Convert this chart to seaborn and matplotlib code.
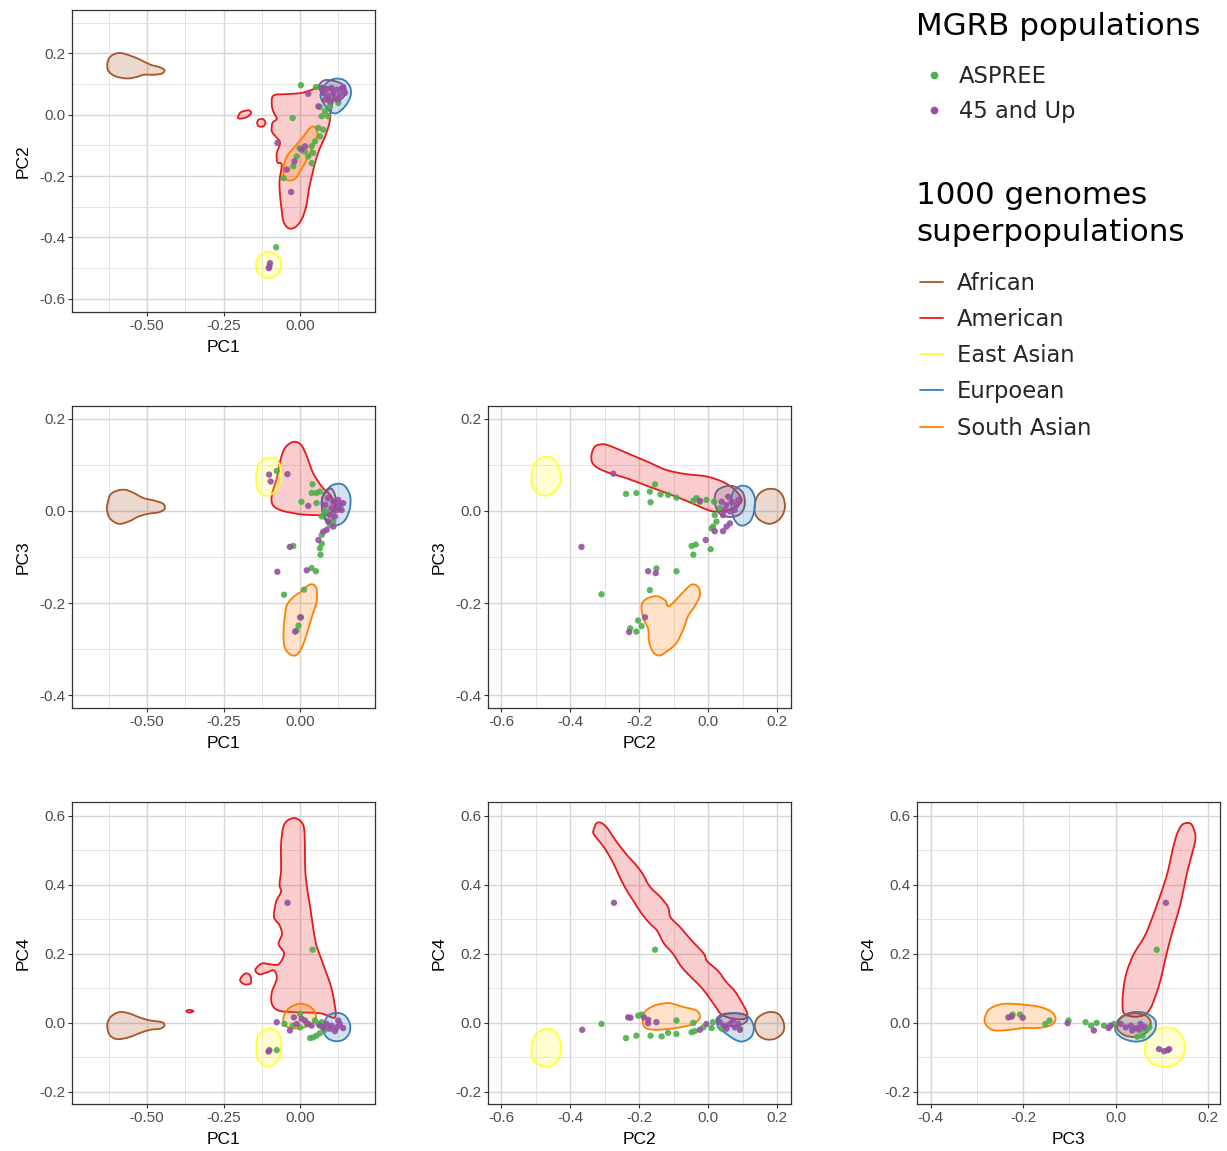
import numpy as np
import pandas as pd
import matplotlib
matplotlib.use("Agg")
import matplotlib.pyplot as plt
import seaborn as sns
from matplotlib.path import Path
from matplotlib.patches import PathPatch
from matplotlib.lines import Line2D
from matplotlib.colors import to_rgba
from matplotlib.ticker import MultipleLocator, FormatStrFormatter

# ---- data: contour outlines of 1000 genomes superpopulations, per panel (x, y) ----
# PC1 vs PC2
african_12 = [(-0.609, 0.196), (-0.587, 0.201), (-0.554, 0.192), (-0.522, 0.179), (-0.489, 0.163), (-0.457, 0.154),
              (-0.443, 0.145), (-0.451, 0.134), (-0.478, 0.130), (-0.511, 0.130), (-0.533, 0.123), (-0.565, 0.118),
              (-0.603, 0.125), (-0.625, 0.141), (-0.630, 0.163), (-0.623, 0.185)]
american_12 = [(-0.087, 0.062), (-0.043, 0.067), (0.0, 0.070), (0.033, 0.079), (0.065, 0.090), (0.098, 0.087),
               (0.109, 0.060), (0.101, 0.016), (0.096, -0.027), (0.082, -0.071), (0.065, -0.109), (0.052, -0.147),
               (0.041, -0.190), (0.030, -0.239), (0.020, -0.299), (0.005, -0.342), (-0.016, -0.367), (-0.038, -0.370),
               (-0.054, -0.348), (-0.060, -0.310), (-0.065, -0.266), (-0.067, -0.217), (-0.060, -0.163),
               (-0.074, -0.155), (-0.076, -0.125), (-0.065, -0.092), (-0.078, -0.073), (-0.092, -0.054),
               (-0.090, -0.027), (-0.076, -0.014), (-0.085, 0.005), (-0.092, 0.029)]
american_12_isle_a = [(-0.203, -0.008), (-0.193, 0.008), (-0.168, 0.014), (-0.160, 0.005), (-0.174, -0.008), (-0.196, -0.013)]
american_12_isle_b = [(-0.140, -0.027), (-0.135, -0.016), (-0.120, -0.015), (-0.113, -0.027), (-0.120, -0.038), (-0.135, -0.038)]
east_asian_12 = [(-0.144, -0.489), (-0.136, -0.464), (-0.114, -0.448), (-0.089, -0.450), (-0.068, -0.467),
                 (-0.062, -0.492), (-0.070, -0.516), (-0.092, -0.531), (-0.117, -0.530), (-0.138, -0.514)]
european_12 = [(0.082, 0.098), (0.109, 0.116), (0.141, 0.114), (0.163, 0.092), (0.165, 0.060), (0.147, 0.027),
               (0.120, 0.005), (0.098, 0.011), (0.076, 0.038), (0.067, 0.065)]
south_asian_12 = [(-0.054, -0.174), (-0.043, -0.136), (-0.016, -0.103), (0.011, -0.071), (0.033, -0.043),
                  (0.049, -0.041), (0.057, -0.065), (0.043, -0.103), (0.022, -0.147), (0.0, -0.185),
                  (-0.016, -0.209), (-0.038, -0.214), (-0.052, -0.201)]
core_12 = [(0.062, 0.095), (0.080, 0.112), (0.110, 0.110), (0.137, 0.100), (0.150, 0.080), (0.140, 0.055),
           (0.115, 0.045), (0.088, 0.055), (0.068, 0.075)]

# PC1 vs PC3
african_13 = [(-0.630, 0.013), (-0.620, 0.035), (-0.598, 0.044), (-0.571, 0.046), (-0.543, 0.039), (-0.511, 0.028),
              (-0.473, 0.022), (-0.446, 0.015), (-0.443, 0.004), (-0.462, -0.003), (-0.495, -0.006), (-0.527, -0.012),
              (-0.560, -0.023), (-0.592, -0.028), (-0.620, -0.017), (-0.630, -0.001)]
american_13 = [(-0.022, 0.150), (-0.049, 0.137), (-0.065, 0.108), (-0.076, 0.071), (-0.092, 0.035), (-0.089, 0.013),
               (-0.060, 0.001), (0.0, -0.007), (0.054, -0.009), (0.098, -0.007), (0.114, 0.013), (0.098, 0.035),
               (0.071, 0.053), (0.043, 0.082), (0.022, 0.119), (0.003, 0.144)]
east_asian_13 = [(-0.143, 0.075), (-0.136, 0.100), (-0.109, 0.115), (-0.076, 0.111), (-0.062, 0.087), (-0.065, 0.060),
                 (-0.087, 0.039), (-0.114, 0.033), (-0.138, 0.046)]
european_13 = [(0.082, 0.042), (0.109, 0.057), (0.141, 0.057), (0.163, 0.035), (0.163, 0.006), (0.147, -0.020),
               (0.120, -0.031), (0.092, -0.025), (0.074, 0.0), (0.071, 0.024)]
south_asian_13 = [(-0.043, -0.205), (-0.022, -0.187), (0.0, -0.177), (0.016, -0.167), (0.038, -0.159), (0.054, -0.169),
                  (0.054, -0.198), (0.040, -0.227), (0.027, -0.256), (0.011, -0.289), (-0.008, -0.311),
                  (-0.029, -0.313), (-0.049, -0.298), (-0.054, -0.271), (-0.051, -0.238)]
core_13 = [(0.098, 0.049), (0.114, 0.035), (0.117, 0.006), (0.103, -0.020), (0.087, -0.023), (0.074, -0.005), (0.073, 0.028)]

# PC2 vs PC3
african_23 = [(0.135, 0.013), (0.145, 0.035), (0.169, 0.047), (0.198, 0.046), (0.217, 0.031), (0.222, 0.006),
              (0.208, -0.017), (0.179, -0.028), (0.150, -0.020), (0.136, -0.006)]
american_23 = [(-0.338, 0.122), (-0.328, 0.140), (-0.304, 0.145), (-0.280, 0.140), (-0.236, 0.126), (-0.179, 0.108),
               (-0.121, 0.089), (-0.063, 0.080), (-0.005, 0.075), (0.043, 0.063), (0.077, 0.046), (0.097, 0.024),
               (0.080, 0.009), (0.048, 0.0), (0.014, -0.001), (-0.014, 0.006), (-0.063, 0.022), (-0.121, 0.039),
               (-0.179, 0.055), (-0.236, 0.071), (-0.285, 0.082), (-0.319, 0.093), (-0.336, 0.105)]
east_asian_23 = [(-0.512, 0.075), (-0.502, 0.104), (-0.473, 0.118), (-0.444, 0.111), (-0.429, 0.084), (-0.431, 0.057),
                 (-0.454, 0.037), (-0.483, 0.034), (-0.507, 0.049)]
european_23 = [(0.077, 0.046), (0.097, 0.055), (0.121, 0.049), (0.135, 0.028), (0.133, -0.001), (0.121, -0.023),
               (0.097, -0.032), (0.077, -0.020), (0.068, 0.006), (0.068, 0.031)]
south_asian_23 = [(-0.193, -0.205), (-0.179, -0.191), (-0.150, -0.185), (-0.125, -0.194), (-0.116, -0.207),
                  (-0.101, -0.199), (-0.072, -0.176), (-0.048, -0.160), (-0.029, -0.165), (-0.024, -0.183),
                  (-0.039, -0.207), (-0.058, -0.228), (-0.072, -0.257), (-0.092, -0.287), (-0.116, -0.303),
                  (-0.140, -0.314), (-0.159, -0.307), (-0.171, -0.285), (-0.174, -0.256), (-0.188, -0.233)]
core_23 = [(0.024, 0.042), (0.048, 0.053), (0.077, 0.053), (0.101, 0.039), (0.106, 0.013), (0.092, -0.007),
           (0.063, -0.013), (0.034, -0.006), (0.019, 0.017)]

# PC1 vs PC4
african_14 = [(-0.630, -0.008), (-0.620, 0.016), (-0.592, 0.031), (-0.560, 0.028), (-0.522, 0.015), (-0.489, 0.007),
              (-0.451, 0.002), (-0.443, -0.008), (-0.457, -0.017), (-0.489, -0.020), (-0.522, -0.029),
              (-0.560, -0.042), (-0.598, -0.047), (-0.622, -0.035)]
american_14 = [(-0.024, 0.593), (-0.052, 0.574), (-0.062, 0.516), (-0.062, 0.443), (-0.067, 0.400), (-0.062, 0.380),
               (-0.078, 0.351), (-0.085, 0.307), (-0.067, 0.283), (-0.059, 0.257), (-0.070, 0.228), (-0.052, 0.201),
               (-0.070, 0.170), (-0.100, 0.170), (-0.125, 0.172), (-0.146, 0.154), (-0.133, 0.141), (-0.109, 0.146),
               (-0.085, 0.152), (-0.076, 0.128), (-0.092, 0.089), (-0.092, 0.055), (-0.071, 0.036), (-0.022, 0.031),
               (0.065, 0.028), (0.114, 0.016), (0.111, 0.065), (0.100, 0.109), (0.085, 0.147), (0.067, 0.191),
               (0.052, 0.230), (0.041, 0.288), (0.033, 0.337), (0.024, 0.385), (0.017, 0.443), (0.016, 0.511),
               (0.013, 0.565), (0.0, 0.586)]
american_14_isle_a = [(-0.196, 0.125), (-0.179, 0.143), (-0.163, 0.137), (-0.161, 0.115), (-0.182, 0.112)]
american_14_isle_b = [(-0.372, 0.034), (-0.361, 0.038), (-0.348, 0.034), (-0.361, 0.030)]
east_asian_14 = [(-0.143, -0.071), (-0.136, -0.037), (-0.109, -0.017), (-0.078, -0.022), (-0.062, -0.051),
                 (-0.065, -0.095), (-0.087, -0.121), (-0.114, -0.125), (-0.138, -0.106)]
european_14 = [(0.078, -0.003), (0.092, 0.021), (0.120, 0.029), (0.147, 0.021), (0.163, -0.003), (0.161, -0.030),
               (0.141, -0.049), (0.114, -0.053), (0.090, -0.044), (0.076, -0.024)]
south_asian_14 = [(-0.054, 0.016), (-0.038, 0.041), (-0.005, 0.055), (0.027, 0.050), (0.049, 0.031), (0.050, 0.007),
                  (0.027, -0.009), (-0.005, -0.016), (-0.038, -0.013), (-0.052, -0.001)]

# PC2 vs PC4
african_24 = [(0.135, -0.008), (0.145, 0.016), (0.174, 0.031), (0.203, 0.026), (0.219, 0.0), (0.217, -0.027),
              (0.196, -0.045), (0.169, -0.048), (0.145, -0.035)]
american_24 = [(-0.331, 0.562), (-0.323, 0.579), (-0.309, 0.579), (-0.292, 0.564), (-0.270, 0.531), (-0.236, 0.487),
               (-0.212, 0.461), (-0.190, 0.432), (-0.169, 0.395), (-0.138, 0.364), (-0.116, 0.335), (-0.109, 0.306),
               (-0.080, 0.276), (-0.051, 0.242), (-0.013, 0.201), (-0.003, 0.179), (0.029, 0.150), (0.053, 0.118),
               (0.077, 0.092), (0.097, 0.060), (0.113, 0.028), (0.106, 0.012), (0.072, 0.012), (0.039, 0.024),
               (0.022, 0.046), (0.003, 0.073), (-0.019, 0.102), (-0.048, 0.131), (-0.077, 0.162), (-0.101, 0.199),
               (-0.128, 0.230), (-0.148, 0.267), (-0.169, 0.288), (-0.193, 0.317), (-0.217, 0.354), (-0.238, 0.387),
               (-0.258, 0.426), (-0.277, 0.467), (-0.302, 0.509), (-0.323, 0.535), (-0.333, 0.550)]
east_asian_24 = [(-0.512, -0.076), (-0.502, -0.037), (-0.473, -0.018), (-0.444, -0.024), (-0.428, -0.059),
                 (-0.431, -0.100), (-0.454, -0.124), (-0.483, -0.125), (-0.507, -0.106)]
european_24 = [(0.027, 0.007), (0.048, 0.024), (0.082, 0.028), (0.116, 0.018), (0.132, -0.011), (0.125, -0.040),
               (0.099, -0.054), (0.075, -0.047), (0.051, -0.030), (0.030, -0.015)]
south_asian_24 = [(-0.190, 0.007), (-0.182, 0.034), (-0.150, 0.052), (-0.111, 0.057), (-0.072, 0.046), (-0.034, 0.036),
                  (-0.024, 0.016), (-0.043, -0.003), (-0.082, -0.013), (-0.121, -0.018), (-0.159, -0.020),
                  (-0.183, -0.013)]
core_24 = [(0.024, 0.007), (0.039, 0.024), (0.072, 0.028), (0.106, 0.024), (0.113, 0.007), (0.092, -0.006), (0.053, -0.009)]

# PC3 vs PC4
african_34 = [(0.004, -0.003), (0.015, 0.018), (0.040, 0.028), (0.065, 0.021), (0.076, 0.002), (0.070, -0.024),
              (0.047, -0.040), (0.022, -0.037), (0.006, -0.022)]
american_34 = [(0.153, 0.579), (0.165, 0.574), (0.173, 0.540), (0.167, 0.497), (0.156, 0.443), (0.147, 0.385),
               (0.138, 0.332), (0.126, 0.278), (0.116, 0.230), (0.107, 0.181), (0.098, 0.128), (0.087, 0.080),
               (0.075, 0.041), (0.062, 0.023), (0.040, 0.018), (0.018, 0.028), (0.015, 0.065), (0.018, 0.109),
               (0.025, 0.152), (0.040, 0.201), (0.062, 0.249), (0.076, 0.293), (0.089, 0.341), (0.102, 0.390),
               (0.113, 0.438), (0.121, 0.487), (0.131, 0.540), (0.142, 0.571)]
east_asian_34 = [(0.063, -0.071), (0.073, -0.037), (0.098, -0.016), (0.127, -0.017), (0.146, -0.044), (0.149, -0.081),
                 (0.138, -0.112), (0.113, -0.127), (0.084, -0.121), (0.067, -0.100)]
european_34 = [(0.0, -0.008), (0.011, 0.016), (0.036, 0.031), (0.065, 0.028), (0.086, 0.007), (0.084, -0.024),
               (0.065, -0.048), (0.040, -0.054), (0.015, -0.044), (0.001, -0.027)]
south_asian_34 = [(-0.283, 0.016), (-0.272, 0.041), (-0.243, 0.055), (-0.200, 0.053), (-0.163, 0.046),
                  (-0.138, 0.031), (-0.130, 0.010), (-0.142, -0.008), (-0.171, -0.015), (-0.200, -0.015),
                  (-0.236, -0.021), (-0.265, -0.021), (-0.281, -0.005)]

# ---- data: MGRB samples, per panel (x, y) ----
aspree_12 = [(0.003, 0.096), (-0.024, -0.011), (0.052, 0.090), (0.065, 0.025), (0.082, 0.011), (0.071, -0.005),
             (0.092, -0.005), (0.076, -0.049), (0.065, -0.071), (0.049, -0.087), (0.038, -0.103), (0.043, -0.125),
             (0.027, -0.136), (0.016, -0.120), (0.038, -0.158), (-0.011, -0.136), (-0.002, -0.109), (-0.054, -0.207),
             (-0.022, -0.168), (-0.078, -0.432), (0.109, 0.049), (0.125, 0.038), (0.098, 0.027), (0.060, -0.043)]
up45_12 = [(0.027, 0.068), (0.060, 0.027), (-0.074, -0.092), (-0.029, -0.252), (-0.043, -0.179), (-0.018, -0.152),
           (0.005, -0.114), (0.016, -0.103), (-0.100, -0.495), (-0.098, -0.484), (-0.102, -0.500), (0.071, 0.087),
           (0.087, 0.082), (0.103, 0.087), (0.120, 0.082), (0.136, 0.084), (0.109, 0.071), (0.130, 0.065),
           (0.092, 0.060), (0.114, 0.054), (0.076, 0.071), (0.147, 0.071), (0.098, 0.043), (0.125, 0.049),
           (0.082, 0.049), (0.141, 0.090)]
aspree_13 = [(-0.076, 0.087), (0.041, 0.058), (0.038, 0.039), (0.054, 0.039), (0.065, 0.042), (0.005, 0.020),
             (0.054, 0.017), (0.071, -0.012), (0.082, -0.001), (0.092, -0.005), (0.098, -0.031), (0.071, -0.052),
             (0.071, -0.071), (0.065, -0.081), (0.067, -0.095), (-0.022, -0.076), (0.038, -0.124), (0.052, -0.131),
             (-0.052, -0.182), (0.013, -0.171), (0.0, -0.231), (-0.005, -0.249), (-0.011, -0.260), (0.109, -0.023),
             (0.130, 0.006)]
up45_13 = [(-0.101, 0.079), (-0.096, 0.064), (-0.041, 0.080), (0.027, 0.011), (0.060, -0.063), (-0.033, -0.078),
           (-0.074, -0.132), (0.022, -0.129), (0.003, -0.231), (-0.016, -0.262), (0.076, -0.045), (0.087, -0.041),
           (0.092, 0.028), (0.109, 0.020), (0.125, 0.024), (0.141, 0.017), (0.103, 0.006), (0.120, 0.002),
           (0.136, 0.002), (0.098, -0.009), (0.114, -0.012), (0.092, -0.023), (0.109, -0.034), (0.082, 0.013),
           (0.130, 0.013)]
aspree_23 = [(-0.238, 0.037), (-0.208, 0.039), (-0.169, 0.042), (-0.154, 0.058), (-0.167, 0.019), (-0.138, 0.036),
             (-0.116, 0.035), (-0.092, 0.029), (-0.043, 0.022), (-0.034, 0.028), (-0.005, 0.024), (0.017, 0.020),
             (0.019, -0.009), (0.024, -0.023), (0.014, -0.034), (0.010, -0.038), (-0.048, -0.076), (-0.036, -0.073),
             (-0.043, -0.095), (0.007, -0.083), (-0.150, -0.125), (-0.092, -0.131), (-0.169, -0.172),
             (-0.309, -0.181), (-0.203, -0.238), (-0.193, -0.250), (-0.208, -0.262), (-0.226, -0.255),
             (-0.024, 0.020), (0.034, 0.006)]
up45_23 = [(-0.275, 0.081), (-0.367, -0.078), (-0.007, -0.063), (0.019, -0.044), (0.043, -0.044), (0.053, -0.034),
           (0.063, -0.027), (-0.174, -0.131), (-0.152, -0.135), (-0.183, -0.231), (-0.229, -0.263), (-0.024, 0.022),
           (0.039, 0.020), (0.053, 0.013), (0.068, 0.020), (0.082, 0.013), (0.048, 0.002), (0.063, -0.001),
           (0.077, 0.002), (0.087, 0.024), (0.058, 0.031), (0.043, -0.009)]
aspree_14 = [(0.041, 0.212), (-0.076, -0.079), (-0.051, -0.003), (-0.024, -0.008), (0.0, 0.026), (0.0, -0.013),
             (0.049, 0.007), (0.060, -0.003), (0.071, 0.002), (0.043, -0.042), (0.054, -0.037), (0.065, -0.030),
             (0.033, -0.044), (0.082, -0.020), (0.022, -0.003)]
up45_14 = [(-0.041, 0.348), (-0.100, -0.079), (-0.103, -0.083), (-0.076, 0.002), (-0.033, -0.022), (-0.020, 0.016),
           (0.005, 0.012), (0.016, 0.007), (0.027, -0.003), (0.038, -0.008), (-0.011, -0.003), (0.087, -0.003),
           (0.103, -0.008), (0.120, -0.013), (0.130, -0.003), (0.141, -0.015), (0.098, -0.017), (0.114, -0.024),
           (0.125, 0.007), (0.065, -0.008), (0.076, -0.015)]
aspree_24 = [(-0.154, 0.212), (-0.309, -0.003), (-0.238, -0.044), (-0.208, -0.037), (-0.203, 0.021), (-0.193, 0.024),
             (-0.167, -0.037), (-0.135, -0.039), (-0.116, -0.029), (-0.092, -0.032), (-0.092, 0.007),
             (-0.048, -0.027), (-0.039, -0.024), (-0.043, 0.0), (-0.014, -0.013), (0.010, -0.015), (0.014, 0.002),
             (0.092, -0.017), (0.039, -0.015)]
up45_24 = [(-0.273, 0.348), (-0.365, -0.020), (-0.232, 0.016), (-0.225, 0.015), (-0.186, 0.016), (-0.174, -0.001),
           (-0.150, 0.002), (-0.174, 0.009), (-0.024, -0.020), (-0.005, -0.003), (0.034, 0.002), (0.048, -0.008),
           (0.063, -0.003), (0.077, -0.013), (0.087, -0.003), (0.053, -0.017), (0.092, -0.020), (0.072, 0.007)]
aspree_34 = [(0.089, 0.212), (-0.223, 0.024), (-0.207, 0.024), (-0.152, -0.003), (-0.143, 0.007), (-0.102, 0.007),
             (-0.065, 0.002), (-0.053, -0.008), (-0.041, 0.0), (-0.025, -0.008), (-0.004, -0.003), (0.065, -0.022),
             (0.073, -0.013), (0.047, -0.040), (0.058, -0.037)]
up45_34 = [(0.109, 0.348), (-0.232, 0.016), (-0.225, 0.018), (-0.201, 0.015), (-0.104, -0.001), (-0.047, -0.022),
           (-0.015, -0.015), (-0.011, -0.008), (0.094, -0.076), (0.105, -0.082), (0.113, -0.079), (0.116, -0.076),
           (0.011, -0.003), (0.022, -0.013), (0.033, -0.008), (0.044, -0.015), (0.054, -0.003), (0.036, -0.022),
           (0.051, -0.020), (0.062, -0.011)]

superpops = ["African", "American", "East Asian", "Eurpoean", "South Asian"]
cohorts = ["ASPREE", "45 and Up"]

# ---- style ----
pop_colors = {"African": "#A65628", "American": "#E41A1C", "East Asian": "#FFFF33",
              "Eurpoean": "#377EB8", "South Asian": "#FF7F00", "core": "#6E5C82"}
cohort_colors = {"ASPREE": "#4DAF4A", "45 and Up": "#984EA3"}

sns.set_theme(style="white")
plt.rcParams["font.family"] = ["Liberation Sans", "DejaVu Sans"]
plt.rcParams["axes.unicode_minus"] = False

W, H = 1227, 1151
fig = plt.figure(figsize=(W / 100, H / 100), dpi=100)

# panel: x var, y var, left px, top px, xlim, ylim, shapes, samples
panels = [
    ("PC1", "PC2", 72, 10, (-0.745, 0.245), (-0.643, 0.341),
     [("African", african_12), ("American", american_12), ("American", american_12_isle_a),
      ("American", american_12_isle_b), ("East Asian", east_asian_12), ("Eurpoean", european_12),
      ("South Asian", south_asian_12), ("core", core_12)], aspree_12, up45_12),
    ("PC1", "PC3", 72, 406, (-0.745, 0.245), (-0.428, 0.228),
     [("African", african_13), ("American", american_13), ("East Asian", east_asian_13),
      ("Eurpoean", european_13), ("South Asian", south_asian_13), ("core", core_13)], aspree_13, up45_13),
    ("PC2", "PC3", 488, 406, (-0.638, 0.24), (-0.428, 0.228),
     [("African", african_23), ("American", american_23), ("East Asian", east_asian_23),
      ("Eurpoean", european_23), ("South Asian", south_asian_23), ("core", core_23)], aspree_23, up45_23),
    ("PC1", "PC4", 72, 802, (-0.745, 0.245), (-0.235, 0.64),
     [("African", african_14), ("American", american_14), ("American", american_14_isle_a),
      ("American", american_14_isle_b), ("East Asian", east_asian_14), ("Eurpoean", european_14),
      ("South Asian", south_asian_14)], aspree_14, up45_14),
    ("PC2", "PC4", 488, 802, (-0.638, 0.24), (-0.235, 0.64),
     [("African", african_24), ("American", american_24), ("East Asian", east_asian_24),
      ("Eurpoean", european_24), ("South Asian", south_asian_24), ("core", core_24)], aspree_24, up45_24),
    ("PC3", "PC4", 917, 802, (-0.43, 0.226), (-0.235, 0.64),
     [("American", american_34), ("East Asian", east_asian_34), ("Eurpoean", european_34),
      ("South Asian", south_asian_34), ("African", african_34)], aspree_34, up45_34),
]

steps = {"PC1": (0.25, 0.125, "%.2f"), "PC2": (0.2, 0.1, "%.1f"),
         "PC3": (0.2, 0.1, "%.1f"), "PC4": (0.2, 0.1, "%.1f")}


def smooth_closed(pts):
    # closed Catmull-Rom curve through the outline vertices, as cubic Bezier segments
    p = np.asarray(pts, dtype=float)
    n = len(p)
    verts = [p[0]]
    codes = [Path.MOVETO]
    for i in range(n):
        p0, p1, p2, p3 = p[i - 1], p[i], p[(i + 1) % n], p[(i + 2) % n]
        verts += [p1 + (p2 - p0) / 6, p2 - (p3 - p1) / 6, p2]
        codes += [Path.CURVE4] * 3
    return Path(verts, codes)


for xv, yv, left, top, xlim, ylim, shapes, aspree, up45 in panels:
    ax = fig.add_axes([left / W, 1 - (top + 302) / H, 303 / W, 302 / H])
    ax.set_facecolor("white")

    for name, outline in shapes:
        col = pop_colors[name]
        ax.add_patch(PathPatch(smooth_closed(outline), facecolor=to_rgba(col, 0.22),
                               edgecolor=col, lw=1.3, zorder=2))

    df = pd.concat([
        pd.DataFrame(aspree, columns=["x", "y"]).assign(cohort="ASPREE"),
        pd.DataFrame(up45, columns=["x", "y"]).assign(cohort="45 and Up"),
    ], ignore_index=True)
    sns.scatterplot(data=df, x="x", y="y", hue="cohort", hue_order=cohorts, palette=cohort_colors,
                    s=21, linewidth=0, alpha=0.9, legend=False, ax=ax, zorder=3)

    ax.set_xlim(*xlim)
    ax.set_ylim(*ylim)
    for axis, var in ((ax.xaxis, xv), (ax.yaxis, yv)):
        major, minor, fmt = steps[var]
        axis.set_major_locator(MultipleLocator(major))
        axis.set_minor_locator(MultipleLocator(minor))
        axis.set_major_formatter(FormatStrFormatter(fmt))
    ax.grid(True, which="major", color="#D6D6D6", lw=1.0, zorder=0)
    ax.grid(True, which="minor", color="#E3E3E3", lw=0.7, zorder=0)
    ax.set_axisbelow(True)
    ax.tick_params(which="major", direction="out", length=3, width=0.8, color="#333333",
                   labelsize=11, labelcolor="#4D4D4D", pad=2, bottom=True, left=True)
    ax.tick_params(which="minor", length=0)
    for sp in ax.spines.values():
        sp.set_color("#333333")
        sp.set_linewidth(0.9)
    ax.set_xlabel(xv, fontsize=12.5, color="black", labelpad=5)
    ax.set_ylabel(yv, fontsize=12.5, color="black", labelpad=6)

# ---- legends ----
leg_font = "DejaVu Sans"
fig.text(916 / W, 1 - 35 / H, "MGRB populations", ha="left", va="baseline",
         fontsize=22.3, family=leg_font, color="black")
fig.text(916 / W, 1 - 204 / H, "1000 genomes", ha="left", va="baseline",
         fontsize=22.3, family=leg_font, color="black")
fig.text(916 / W, 1 - 241 / H, "superpopulations", ha="left", va="baseline",
         fontsize=22.3, family=leg_font, color="black")

h1 = [Line2D([], [], ls="", marker="o", markersize=5.5, markeredgewidth=0, color=cohort_colors[c]) for c in cohorts]
fig.legend(h1, cohorts, loc="upper left", bbox_to_anchor=(922 / W, 1 - 65 / H), frameon=False,
           prop={"family": leg_font, "size": 16.3}, handlelength=1.02, handletextpad=0.6,
           labelspacing=0.52, borderpad=0, borderaxespad=0)

h2 = [Line2D([], [], lw=1.3, color=pop_colors[p]) for p in superpops]
fig.legend(h2, superpops, loc="upper left", bbox_to_anchor=(920 / W, 1 - 272 / H), frameon=False,
           prop={"family": leg_font, "size": 16.3}, handlelength=1.02, handletextpad=0.6,
           labelspacing=0.58, borderpad=0, borderaxespad=0)

fig.savefig("out.png", dpi=100, facecolor="white")
